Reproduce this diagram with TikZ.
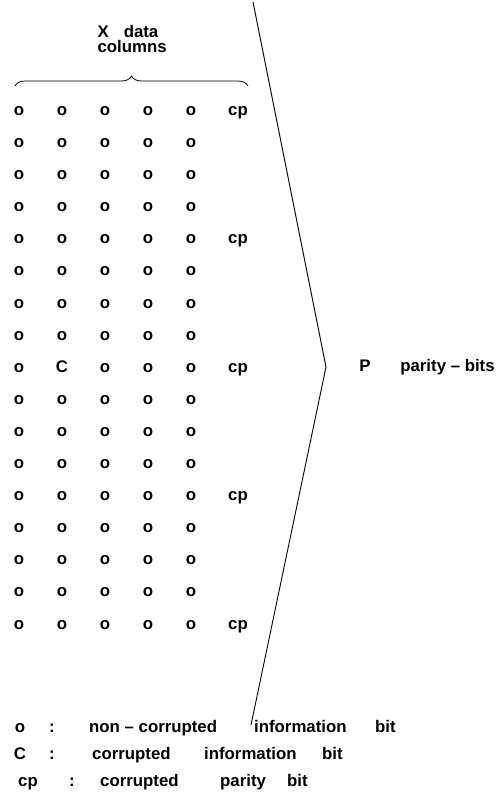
\documentclass[tikz,border=0pt]{standalone}
\usepackage{fontspec}
\setmainfont{Liberation Sans}
\usetikzlibrary{decorations.pathreplacing}
\begin{document}
\begin{tikzpicture}[x=1pt,y=-1pt,
  txt/.style={inner sep=0pt,font=\fontsize{16.8}{19}\selectfont\bfseries},
  bitc/.style={txt,anchor=base},
  lbl/.style={txt,anchor=base west}]
\useasboundingbox (0,0) rectangle (499,811);

% header above the data columns
\node[txt,anchor=base west,align=left,
  font=\fontsize{16.8}{14}\selectfont\bfseries] (head) at (97.4,52)
  {X\hspace{15pt}data\\columns};
\draw[decorate,decoration={brace,amplitude=10pt},line width=0.8pt]
  (15,86) -- (248,86);

% bit matrix: 17 rows, 5 data columns
\foreach \r in {0,...,16}{
  \pgfmathsetmacro{\yy}{111+32.1*\r+4.4}
  \foreach \c/\xx in {0/19,1/62,2/105,3/148,4/191}{
    \ifnum\r=8 \ifnum\c=1
      \node[bitc] (b-\r-\c) at (\xx,\yy) {C};
    \else
      \node[bitc] (b-\r-\c) at (\xx,\yy) {o};
    \fi\else
      \node[bitc] (b-\r-\c) at (\xx,\yy) {o};
    \fi
  }
}
% corrupted parity bits
\foreach \r in {0,4,8,12,16}{
  \pgfmathsetmacro{\yy}{111+32.1*\r+4.4}
  \node[bitc] (cp-\r) at (238,\yy) {cp};
}

% bracket grouping the parity bits
\coordinate (btop) at (253,2);
\coordinate (btip) at (326,367);
\coordinate (bbot) at (251,725);
\draw[line width=0.9pt] (btop) -- (btip) -- (bbot);
\node[bitc] (pp) at (365,371.4) {P};
\node[bitc] (pbits) at (447.5,371.4) {parity -- bits};

% legend
\node[bitc] (l1a) at (20,732.4) {o};
\node[bitc] (l1b) at (52,732.4) {:};
\node[lbl] (l1c) at (89,732.4) {non -- corrupted};
\node[lbl] (l1d) at (254,732.4) {information};
\node[lbl] (l1e) at (375,732.4) {bit};

\node[bitc] (l2a) at (20,759.4) {C};
\node[bitc] (l2b) at (52,759.4) {:};
\node[lbl] (l2c) at (92,759.4) {corrupted};
\node[lbl] (l2d) at (204,759.4) {information};
\node[lbl] (l2e) at (322,759.4) {bit};

\node[lbl] (l3a) at (18,786.4) {cp};
\node[bitc] (l3b) at (72,786.4) {:};
\node[lbl] (l3c) at (100,786.4) {corrupted};
\node[lbl] (l3d) at (220,786.4) {parity};
\node[lbl] (l3e) at (287,786.4) {bit};
\end{tikzpicture}
\end{document}
